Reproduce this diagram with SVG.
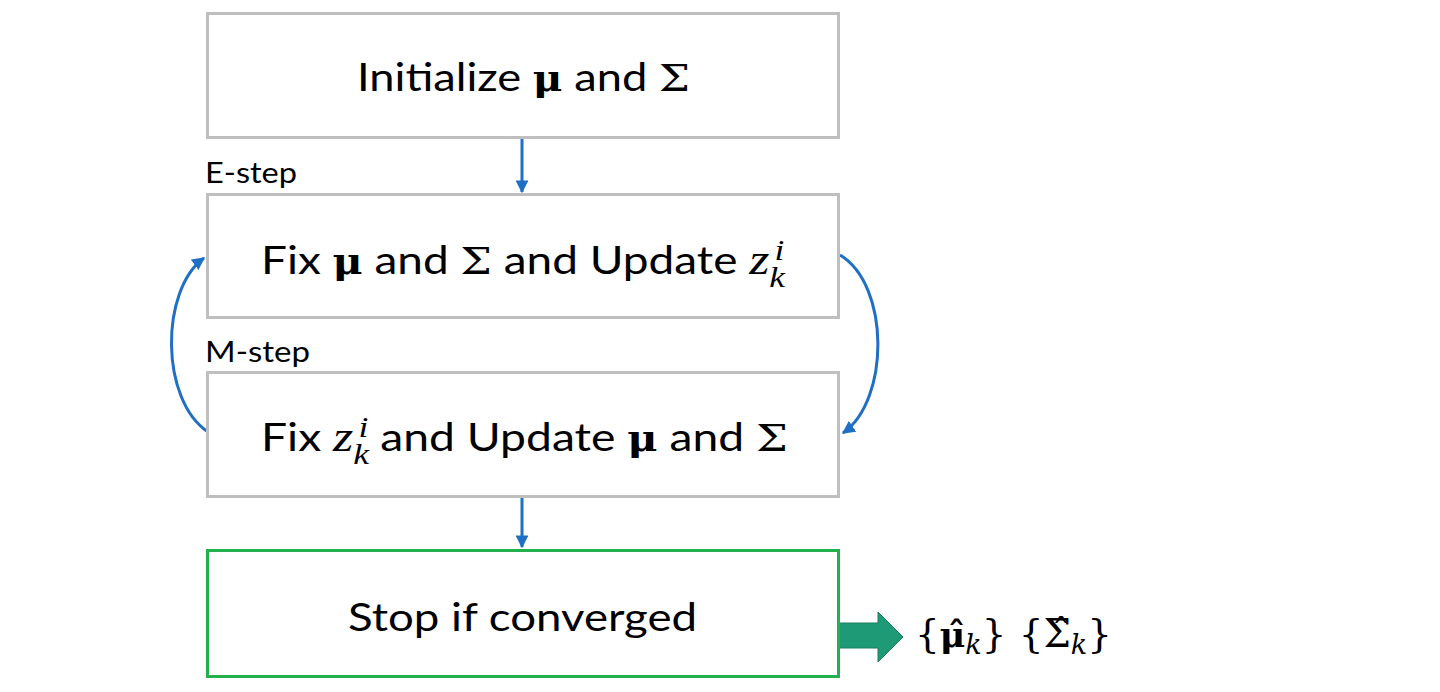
<svg xmlns="http://www.w3.org/2000/svg" width="1440" height="692" viewBox="0 0 1440 692">
<defs>
<style>
.box{fill:#ffffff;stroke:#bfbfbf;stroke-width:3}
.gbox{fill:#ffffff;stroke:#22b14c;stroke-width:3}
.t{font-family:Lato,"Liberation Sans",sans-serif;font-size:39px;fill:#000}
.lbl{font-family:Lato,"Liberation Sans",sans-serif;font-size:28px;fill:#000}
.mb{font-family:"DejaVu Serif","Liberation Serif",serif;font-weight:bold;font-size:35px}
.ms{font-family:"DejaVu Serif","Liberation Serif",serif;font-size:38px}
.mi{font-family:"Liberation Serif","DejaVu Serif",serif;font-style:italic;font-size:44px}
.sm{font-size:30px}
.conn{fill:none;stroke:#1f6fc5;stroke-width:3}
.out{font-family:"DejaVu Serif","Liberation Serif",serif;font-size:40px;fill:#000}
</style>
<marker id="ah" viewBox="0 0 10 10" refX="9" refY="5" markerWidth="4.3" markerHeight="4.3" markerUnits="strokeWidth" orient="auto">
<path d="M0,0 L10,5 L0,10 z" fill="#1f6fc5"/>
</marker>
</defs>
<rect width="1440" height="692" fill="#ffffff"/>
<g id="connectors">
<path class="conn" d="M522,139 L522,192" marker-end="url(#ah)"/>
<path class="conn" d="M522,498 L522,547" marker-end="url(#ah)"/>
<path class="conn" d="M208,432 C160,400 160,290 204,258" marker-end="url(#ah)"/>
<path class="conn" d="M840,255 C890,285 890,400 843,433" marker-end="url(#ah)"/>
<path d="M839,623 L878,623 L878,612 L903,637 L878,662 L878,648 L839,648 Z" fill="#1f9a76" stroke="#1a7f62" stroke-width="1"/>
</g>
<g id="init">
<rect class="box" x="207.5" y="13.5" width="631" height="124"/>
<text class="t" x="357" y="91" textLength="333" lengthAdjust="spacingAndGlyphs">Initialize <tspan class="mb">μ</tspan> and <tspan class="ms">Σ</tspan></text>
</g>
<g id="estep-label">
<text class="lbl" x="205" y="183" textLength="92" lengthAdjust="spacingAndGlyphs">E-step</text>
</g>
<g id="estep">
<rect class="box" x="207.5" y="194.5" width="631" height="123"/>
<text class="t" x="261" y="274" textLength="524" lengthAdjust="spacingAndGlyphs">Fix <tspan class="mb">μ</tspan> and <tspan class="ms">Σ</tspan> and Update <tspan class="mi">z</tspan><tspan class="mi sm" dy="13">k</tspan><tspan class="mi sm" dx="-9" dy="-27">i</tspan></text>
</g>
<g id="mstep-label">
<text class="lbl" x="205" y="362" textLength="105" lengthAdjust="spacingAndGlyphs">M-step</text>
</g>
<g id="mstep">
<rect class="box" x="207.5" y="372.5" width="631" height="124"/>
<text class="t" x="261" y="451" textLength="527" lengthAdjust="spacingAndGlyphs">Fix <tspan class="mi">z</tspan><tspan class="mi sm" dy="13">k</tspan><tspan class="mi sm" dx="-9" dy="-27">i</tspan><tspan dy="14"> and Update </tspan><tspan class="mb">μ</tspan> and <tspan class="ms">Σ</tspan></text>
</g>
<g id="stop">
<rect class="gbox" x="207.5" y="550.5" width="631" height="126"/>
<text class="t" x="348" y="631" textLength="349" lengthAdjust="spacingAndGlyphs">Stop if converged</text>
</g>
<g id="output">
<text class="out" x="915" y="647" textLength="197" lengthAdjust="spacingAndGlyphs">{<tspan font-weight="bold" font-size="36">μ̂</tspan><tspan font-style="italic" font-size="28" dy="7">k</tspan><tspan dy="-7">} {Σ̂</tspan><tspan font-style="italic" font-size="28" dy="7">k</tspan><tspan dy="-7">}</tspan></text>
</g>
</svg>
